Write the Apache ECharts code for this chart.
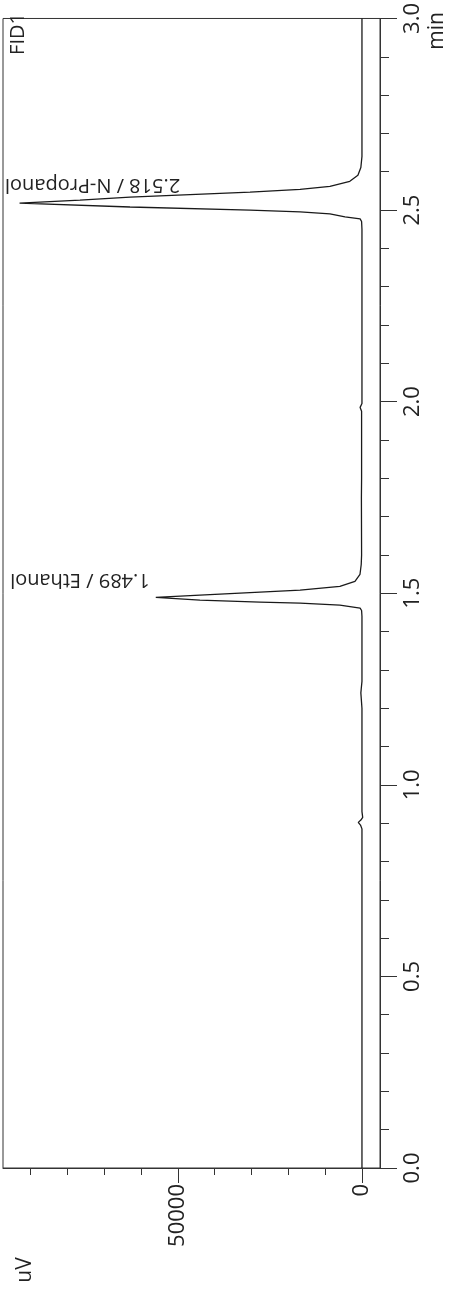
<!DOCTYPE html>
<html>
<head>
<meta charset="utf-8">
<script src="https://cdn.jsdelivr.net/npm/echarts@6/dist/echarts.min.js"></script>
<style>
  html, body { margin: 0; padding: 0; background: #ffffff; }
  #chart { width: 456px; height: 1294px; }
</style>
</head>
<body>
<div id="chart"></div>
<script>
// FID1 trace: retention time (min) and detector signal (uV)
const retentionTime = [
  0.000, 0.500, 0.850, 0.885, 0.895, 0.902, 0.908, 0.915, 0.930,
  1.200, 1.240, 1.250, 1.270, 1.440, 1.455,
  1.461, 1.469, 1.474, 1.477, 1.482, 1.489,
  1.495, 1.503, 1.508, 1.518, 1.531, 1.549, 1.575, 1.600,
  1.750, 1.800, 1.975, 1.985, 1.995, 2.050, 2.450, 2.470,
  2.477, 2.482, 2.490, 2.495, 2.500, 2.508, 2.518,
  2.526, 2.534, 2.547, 2.554, 2.562, 2.575, 2.591, 2.611, 2.640,
  3.000
];
const signalUV = [
  0, 0, 0, 0, 400, 1000, 300, -200, 0,
  0, 300, 200, 0, 0, 100,
  500, 6000, 16800, 27700, 44000, 56000,
  44000, 27700, 16800, 6000, 1900, 540, 200, 100,
  150, 100, 100, 500, 0, 0, 0, 100,
  500, 4600, 8700, 16800, 30400, 63000, 93000,
  76600, 63000, 30400, 16800, 8700, 3300, 1100, 300, 0,
  0
];

// Identified peaks
const peakTimes = [1.489, 2.518];
const peakNames = ['Ethanol', 'N-Propanol'];

// Signal axis ticks
const signalTicks = [0, 10000, 20000, 30000, 40000, 50000, 60000, 70000, 80000, 90000];
const signalLabels = [0, 50000];

const FONT = '"Open Sans", "Liberation Sans", sans-serif';
const INK = '#222222';
const AXIS = '#333333';
const GRID = { left: 3, top: 10, width: 377, height: 1158 };

const traceData = retentionTime.map((t, i) => [signalUV[i], t]);

const option = {
  animation: false,
  backgroundColor: '#ffffff',
  grid: {
    left: GRID.left, top: GRID.top, width: GRID.width, height: GRID.height,
    show: true, borderColor: AXIS, borderWidth: 1, backgroundColor: 'transparent',
    containLabel: false
  },
  xAxis: [
    {
      type: 'value', inverse: true, min: -4900, max: 97500, position: 'bottom',
      axisLine: { show: true, onZero: false, lineStyle: { color: AXIS, width: 1 } },
      axisTick: { show: true, length: 7, customValues: signalTicks, lineStyle: { color: AXIS, width: 1 } },
      axisLabel: {
        show: true, customValues: signalLabels, rotate: 90, margin: 16,
        fontSize: 22, fontFamily: FONT, color: INK,
        formatter: v => String(v)
      },
      splitLine: { show: false }
    },
    {
      type: 'value', inverse: true, min: -4900, max: 97500, position: 'bottom',
      axisLine: { show: false },
      axisTick: { show: true, length: 15, customValues: signalLabels, lineStyle: { color: AXIS, width: 1 } },
      axisLabel: { show: false },
      splitLine: { show: false }
    }
  ],
  yAxis: {
    type: 'value', min: 0, max: 3, interval: 0.5, position: 'right',
    axisLine: { show: true, onZero: false, lineStyle: { color: AXIS, width: 1 } },
    axisTick: { show: true, length: 17, lineStyle: { color: AXIS, width: 1 } },
    minorTick: { show: true, splitNumber: 5, length: 9, lineStyle: { color: AXIS, width: 1 } },
    axisLabel: {
      show: true, rotate: 90, margin: 22, showMinLabel: true, showMaxLabel: true,
      fontSize: 22, fontFamily: FONT, color: INK,
      formatter: v => v.toFixed(1)
    },
    splitLine: { show: false },
    minorSplitLine: { show: false }
  },
  series: [
    {
      type: 'line',
      xAxisIndex: 0, yAxisIndex: 0,
      data: traceData,
      showSymbol: false, symbol: 'none',
      lineStyle: { color: '#1a1a1a', width: 1.3 },
      clip: true
    }
  ]
};

const chart = echarts.init(document.getElementById('chart'), null, { renderer: 'canvas' });
chart.setOption(option);

// Peak annotations, axis names and the detector tag
const measure = document.createElement('canvas').getContext('2d');
const LABEL_FONT = '20px ' + FONT;
measure.font = LABEL_FONT;

const graphics = [];
peakTimes.forEach((t, i) => {
  const idx = retentionTime.indexOf(t);
  const apex = chart.convertToPixel({ xAxisIndex: 0, yAxisIndex: 0 }, [signalUV[idx], t]);
  const text = t.toFixed(3) + ' / ' + peakNames[i];
  const w = measure.measureText(text).width;
  let x = apex[0] - 6;
  let align = 'left';
  if (x - w < GRID.left + 2) { x = GRID.left + 2; align = 'right'; }
  graphics.push({
    type: 'text', x: x, y: apex[1] - 18, rotation: Math.PI, z: 10,
    style: { text: text, font: LABEL_FONT, fill: INK, align: align, verticalAlign: 'middle' }
  });
});

graphics.push({
  type: 'text', x: 18, y: 34, rotation: Math.PI / 2, z: 10,
  style: { text: 'FID1', font: '20px ' + FONT, fill: INK, align: 'center', verticalAlign: 'middle' }
});
graphics.push({
  type: 'text', x: 437, y: 31, rotation: Math.PI / 2, z: 10,
  style: { text: 'min', font: '21px ' + FONT, fill: INK, align: 'center', verticalAlign: 'middle' }
});
graphics.push({
  type: 'text', x: 25, y: 1270, rotation: Math.PI / 2, z: 10,
  style: { text: 'uV', font: '21px ' + FONT, fill: INK, align: 'center', verticalAlign: 'middle' }
});

chart.setOption({ graphic: { elements: graphics } });
</script>
</body>
</html>
